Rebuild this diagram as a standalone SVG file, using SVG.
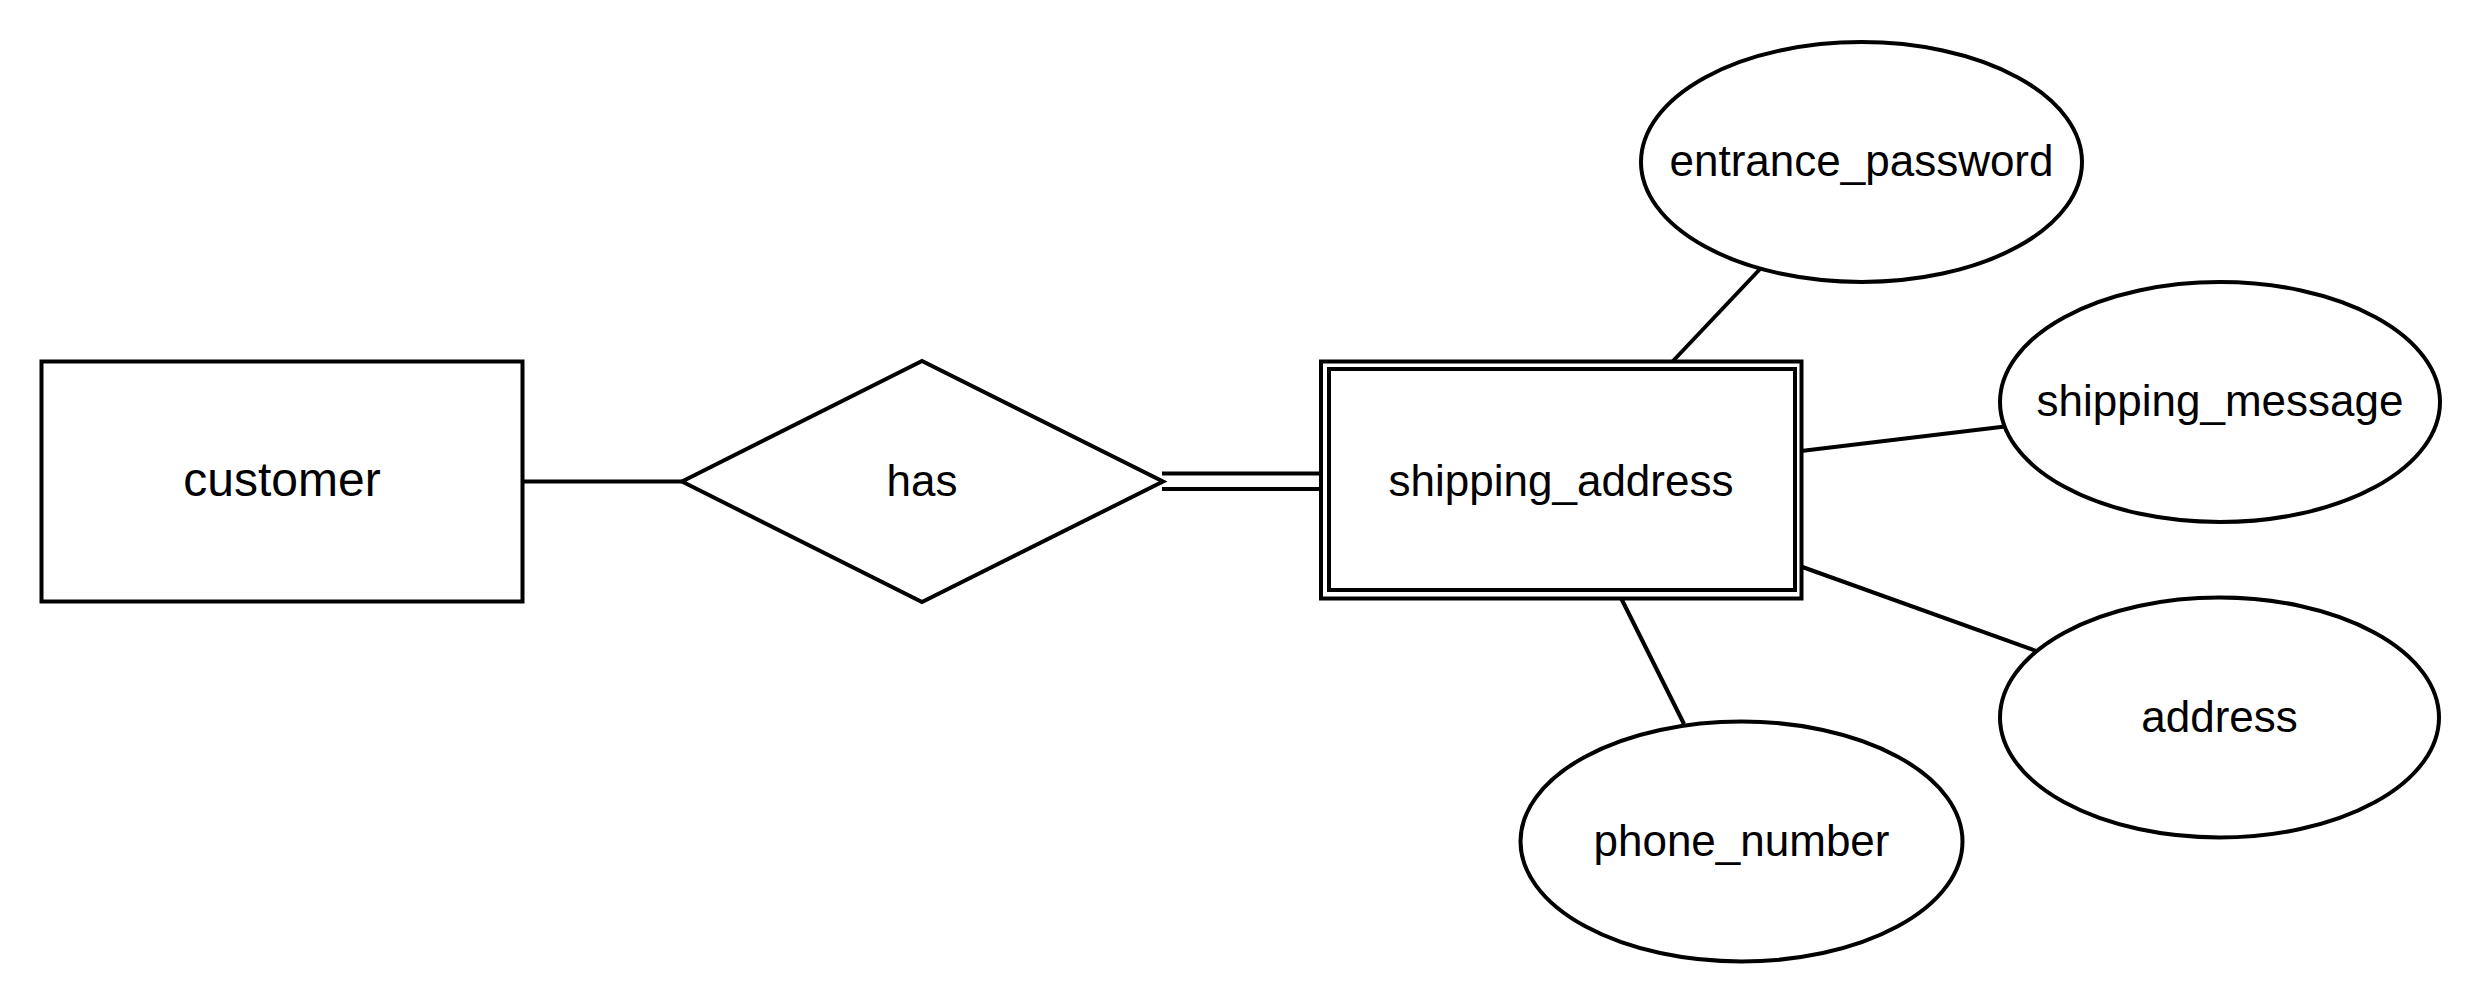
<svg xmlns="http://www.w3.org/2000/svg" width="2484" height="1008" viewBox="0 0 2484 1008">
<style>
.s{fill:#fff;stroke:#000;stroke-width:4}
.e{fill:none;stroke:#000;stroke-width:4}
.t{font-family:"Liberation Sans",Arial,Helvetica,sans-serif;font-size:44px;fill:#000;text-anchor:middle}
.tl{font-size:48px}
</style>
<rect width="2484" height="1008" fill="#fff"/>
<g id="connectors">
<line class="e" x1="522" y1="481.5" x2="682" y2="481.5"/>
<line class="e" x1="1162" y1="473.5" x2="1321" y2="473.5"/>
<line class="e" x1="1162" y1="489" x2="1321" y2="489"/>
<line class="e" x1="1673" y1="361" x2="1761" y2="268"/>
<line class="e" x1="1801" y1="451" x2="2005" y2="426.5"/>
<line class="e" x1="1801" y1="566.5" x2="2037.5" y2="651.5"/>
<line class="e" x1="1621" y1="598" x2="1684" y2="724"/>
</g>
<g id="customer">
<rect class="s" x="41.5" y="361.5" width="481" height="240"/>
<text class="t tl" x="282" y="496">customer</text>
</g>
<g id="has">
<polygon class="s" points="682,481.5 922,361 1163,481.5 922,602"/>
<text class="t" x="922" y="496">has</text>
</g>
<g id="shipping_address">
<rect class="s" x="1321" y="361.5" width="480.5" height="237"/>
<rect class="s" x="1329" y="369" width="466" height="221"/>
<text class="t" x="1561" y="496">shipping_address</text>
</g>
<g id="entrance_password">
<ellipse class="s" cx="1861.5" cy="162" rx="220.5" ry="120"/>
<text class="t" x="1861.5" y="176">entrance_password</text>
</g>
<g id="shipping_message">
<ellipse class="s" cx="2220" cy="402" rx="220" ry="120"/>
<text class="t" x="2220" y="416">shipping_message</text>
</g>
<g id="address">
<ellipse class="s" cx="2219.5" cy="717.5" rx="219.5" ry="120"/>
<text class="t" x="2219.5" y="731.5">address</text>
</g>
<g id="phone_number">
<ellipse class="s" cx="1741.5" cy="841.5" rx="221" ry="120"/>
<text class="t" x="1741.5" y="855.5">phone_number</text>
</g>
</svg>
